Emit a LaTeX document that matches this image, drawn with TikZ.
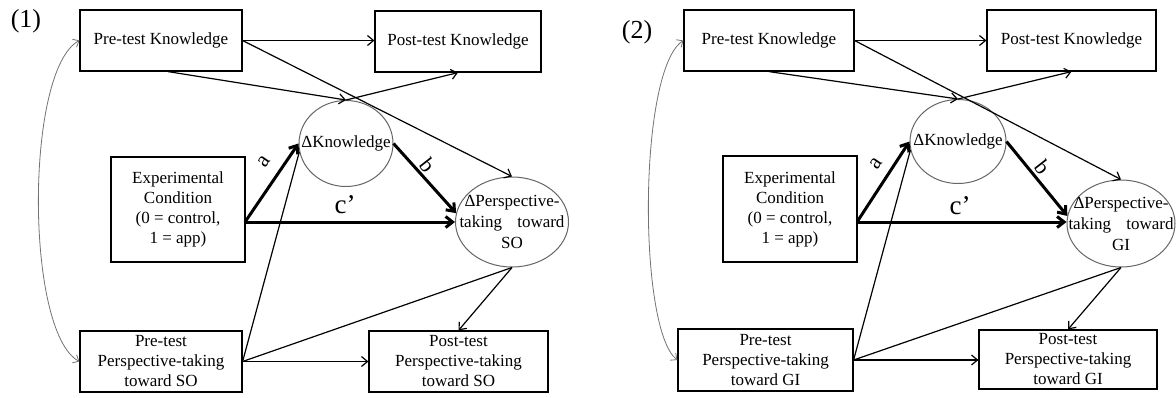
\documentclass[tikz,border=0pt]{standalone}
\usepackage{fontspec}
\setmainfont{Liberation Serif}
\usetikzlibrary{arrows.meta,shapes.geometric,calc}
\tikzset{
  box/.style={draw, line width=1.2pt, inner sep=0pt, align=center, font=\fontsize{17}{20}\selectfont},
  oval/.style={draw=black!60, line width=1pt, ellipse, inner sep=0pt},
  ovaltext/.style={align=center, inner sep=0pt, font=\fontsize{17}{21}\selectfont},
  thin/.style={line width=1.2pt, -{Straight Barb[length=6pt,width=10pt]}},
  plain/.style={line width=1.2pt},
  thickarr/.style={line width=3pt, -{Straight Barb[length=7pt,width=11pt]}},
  cov/.style={draw=black!55, line width=0.8pt, {Straight Barb[length=5pt,width=9pt]}-{Straight Barb[length=5pt,width=9pt]}},
  lab/.style={font=\fontsize{22}{22}\selectfont},
  clab/.style={font=\fontsize{27}{27}\selectfont},
  plabel/.style={font=\fontsize{26}{26}\selectfont}
}
\begin{document}
\begin{tikzpicture}[x=1pt,y=-1pt]
\useasboundingbox[fill=white] (0,0) rectangle (1176,397);

% ---------- Panel 1 ----------
\node[plabel] (n1) at (26,21) {(1)};
\node[box, minimum width=162pt, minimum height=61pt] (pk1) at (161,40.5) {Pre-test Knowledge};
\node[box, minimum width=166pt, minimum height=61pt] (qk1) at (458,41.5) {Post-test Knowledge};
\node[box, minimum width=134pt, minimum height=105pt] (ec1) at (178,209.5) {Experimental\\Condition\\(0 = control,\\1 = app)};
\node[box, minimum width=162pt, minimum height=61pt] (pp1) at (161,361.5) {Pre-test\\Perspective-taking\\toward SO};
\node[box, minimum width=179pt, minimum height=61pt] (qp1) at (458.5,361.5) {Post-test\\Perspective-taking\\toward SO};
\node[oval, minimum width=94pt, minimum height=86pt,
      label={[ovaltext]center:ΔKnowledge}] (dk1) at (346,143.5) {};
\node[oval, minimum width=113pt, minimum height=90pt,
      label={[ovaltext]center:{ΔPerspective-\\taking\hspace{0.9em}toward\\SO}}] (dp1) at (512,222) {};
\coordinate (o1) at (245,222);

\draw[thin] (pk1.east) -- (qk1.west |- pk1.east);
\draw[thin] (pk1.east) -- (dp1.north);
\draw[thin] ($(pk1.south)+(7,0)$) -- (dk1.north);
\draw[thin] (dk1.north) -- (qk1.south);
\draw[thickarr] (o1) -- (dk1.west);
\draw[thickarr] (o1) -- (dp1.west);
\draw[thickarr] (dk1.east) -- (dp1.171);
\draw[plain] (pp1.east) -- (dk1.190);
\draw[plain] (pp1.east) -- (dp1.south);
\draw[thin] (dp1.south) -- (qp1.north);
\draw[thin] (pp1.east) -- (qp1.west);
\draw[cov] (pk1.west) .. controls (25,70) and (25,332) .. (pp1.west);

\node[lab, rotate=55] (a1) at (264,162) {a};
\node[lab, rotate=-52] (b1) at (428,165) {b};
\node[clab] (c1) at (345,205) {c’};

% ---------- Panel 2 ----------
\node[plabel] (n2) at (637,32) {(2)};
\node[box, minimum width=170pt, minimum height=61pt] (pk2) at (769,40.5) {Pre-test Knowledge};
\node[box, minimum width=169pt, minimum height=61pt] (qk2) at (1071.5,40.5) {Post-test Knowledge};
\node[box, minimum width=134pt, minimum height=106pt] (ec2) at (790,209) {Experimental\\Condition\\(0 = control,\\1 = app)};
\node[box, minimum width=175pt, minimum height=62pt] (pp2) at (765.5,360) {Pre-test\\Perspective-taking\\toward GI};
\node[box, minimum width=178pt, minimum height=59pt] (qp2) at (1068,359.5) {Post-test\\Perspective-taking\\toward GI};
\node[oval, minimum width=96pt, minimum height=84pt,
      label={[ovaltext]center:ΔKnowledge}] (dk2) at (958,141.5) {};
\node[oval, minimum width=108pt, minimum height=87pt,
      label={[ovaltext]center:{ΔPerspective-\\taking\hspace{0.9em}toward\\GI}}] (dp2) at (1121,223.5) {};
\coordinate (o2) at (857,222);

\draw[thin] (pk2.east) -- (qk2.west |- pk2.east);
\draw[thin] (pk2.east) -- (dp2.north);
\draw[thin] (pk2.south) -- (dk2.north);
\draw[thin] (dk2.north) -- (qk2.south);
\draw[thickarr] (o2) -- (dk2.west);
\draw[thickarr] (o2) -- (dp2.west |- o2);
\draw[thickarr] (dk2.east) -- (dp2.172);
\draw[plain] (pp2.east) -- (dk2.190);
\draw[plain] (pp2.east) -- (dp2.south);
\draw[thin] (dp2.south) -- (qp2.north);
\draw[thin] (pp2.east) -- (qp2.west |- pp2.east);
\draw[cov] (pk2.west) .. controls (638,70) and (638,330) .. (pp2.west);

\node[lab, rotate=55] (a2) at (876,164) {a};
\node[lab, rotate=-52] (b2) at (1043,167) {b};
\node[clab] (c2) at (960,206) {c’};
\end{tikzpicture}
\end{document}
